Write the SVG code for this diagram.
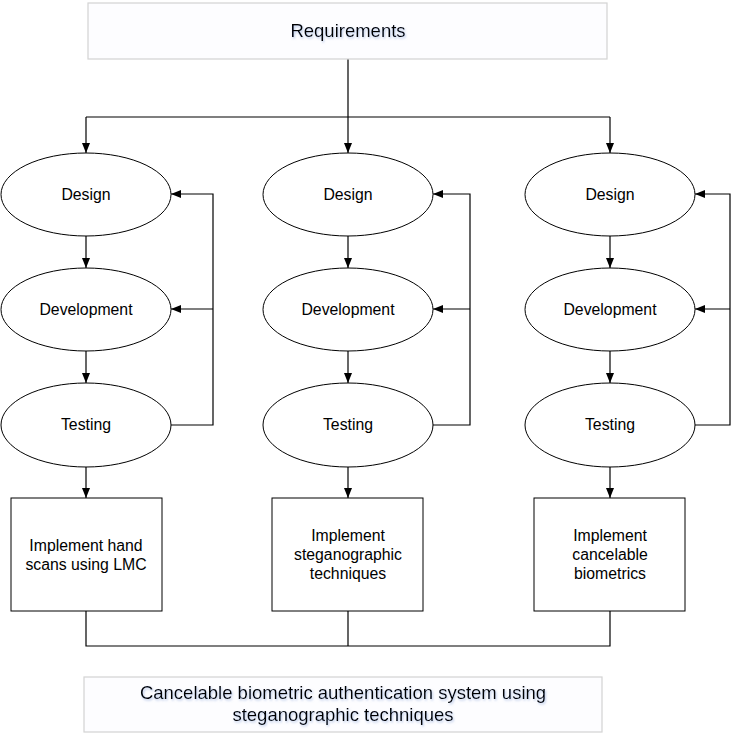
<svg xmlns="http://www.w3.org/2000/svg" width="731" height="742" viewBox="0 0 731 742">
<style>
.el{fill:#fff;stroke:#000;stroke-width:1}
.bx{fill:#fff;stroke:#000;stroke-width:1}
.lb{fill:#fdfdff;stroke:#d3d3d3;stroke-width:1.2}
.t{font-family:"Liberation Sans",Arial,sans-serif;font-size:15.8px;fill:#000;text-anchor:middle}
.tl{font-family:"Liberation Sans",Arial,sans-serif;font-size:18.5px;fill:#000;text-anchor:middle}
.c{fill:none;stroke:#000;stroke-width:1.2}
</style>
<defs>
<marker id="ah" viewBox="0 0 10 10" refX="10" refY="5" markerWidth="10" markerHeight="10" markerUnits="userSpaceOnUse" orient="auto">
<path d="M0,1 L10,5 L0,9 Z" fill="#000"/>
</marker>
<filter id="sh" x="-10%" y="-30%" width="120%" height="160%">
<feDropShadow dx="1" dy="1.5" stdDeviation="1.2" flood-color="#8aa4d8" flood-opacity="0.6"/>
</filter>
</defs>
<rect width="731" height="742" fill="#fff"/>

<g id="connectors">
<path class="c" d="M348,59 V117 M86,117 H610"/>
<path class="c" d="M86,117 V153" marker-end="url(#ah)"/>
<path class="c" d="M348,117 V153" marker-end="url(#ah)"/>
<path class="c" d="M610,117 V153" marker-end="url(#ah)"/>

<path class="c" d="M86,236 V268" marker-end="url(#ah)"/>
<path class="c" d="M86,351 V383" marker-end="url(#ah)"/>
<path class="c" d="M86,467 V498" marker-end="url(#ah)"/>
<path class="c" d="M171,425 H213 V194 H171" marker-end="url(#ah)"/>
<path class="c" d="M213,309 H171" marker-end="url(#ah)"/>

<path class="c" d="M348,236 V268" marker-end="url(#ah)"/>
<path class="c" d="M348,351 V383" marker-end="url(#ah)"/>
<path class="c" d="M348,467 V498" marker-end="url(#ah)"/>
<path class="c" d="M433,425 H470 V194 H433" marker-end="url(#ah)"/>
<path class="c" d="M470,309 H433" marker-end="url(#ah)"/>

<path class="c" d="M610,236 V268" marker-end="url(#ah)"/>
<path class="c" d="M610,351 V383" marker-end="url(#ah)"/>
<path class="c" d="M610,467 V498" marker-end="url(#ah)"/>
<path class="c" d="M695,425 H730 V194 H695" marker-end="url(#ah)"/>
<path class="c" d="M730,309 H695" marker-end="url(#ah)"/>

<path class="c" d="M86,611 V646 H610 V611 M348,611 V646"/>
</g>

<g id="requirements">
<rect class="lb" x="88" y="3" width="519" height="56"/>
<text class="tl" x="348" y="36.5" filter="url(#sh)">Requirements</text>
</g>

<g id="design1"><ellipse class="el" cx="86" cy="194.5" rx="85" ry="41.5"/><text class="t" x="86" y="200">Design</text></g>
<g id="dev1"><ellipse class="el" cx="86" cy="309.5" rx="85" ry="41.5"/><text class="t" x="86" y="315">Development</text></g>
<g id="test1"><ellipse class="el" cx="86" cy="425" rx="85" ry="42"/><text class="t" x="86" y="430">Testing</text></g>

<g id="design2"><ellipse class="el" cx="348" cy="194.5" rx="85" ry="41.5"/><text class="t" x="348" y="200">Design</text></g>
<g id="dev2"><ellipse class="el" cx="348" cy="309.5" rx="85" ry="41.5"/><text class="t" x="348" y="315">Development</text></g>
<g id="test2"><ellipse class="el" cx="348" cy="425" rx="85" ry="42"/><text class="t" x="348" y="430">Testing</text></g>

<g id="design3"><ellipse class="el" cx="610" cy="194.5" rx="85" ry="41.5"/><text class="t" x="610" y="200">Design</text></g>
<g id="dev3"><ellipse class="el" cx="610" cy="309.5" rx="85" ry="41.5"/><text class="t" x="610" y="315">Development</text></g>
<g id="test3"><ellipse class="el" cx="610" cy="425" rx="85" ry="42"/><text class="t" x="610" y="430">Testing</text></g>

<g id="impl1">
<rect class="bx" x="11" y="498" width="151" height="113"/>
<text class="t" x="86" y="550.5">Implement hand</text>
<text class="t" x="86" y="569.5">scans using LMC</text>
</g>
<g id="impl2">
<rect class="bx" x="272" y="498" width="151" height="113"/>
<text class="t" x="348" y="540.5">Implement</text>
<text class="t" x="348" y="559.5">steganographic</text>
<text class="t" x="348" y="578.5">techniques</text>
</g>
<g id="impl3">
<rect class="bx" x="534" y="498" width="151" height="113"/>
<text class="t" x="610" y="540.5">Implement</text>
<text class="t" x="610" y="559.5">cancelable</text>
<text class="t" x="610" y="578.5">biometrics</text>
</g>

<g id="system">
<rect class="lb" x="84" y="677" width="518" height="55"/>
<text class="tl" x="343" y="698.5" filter="url(#sh)">Cancelable biometric authentication system using</text>
<text class="tl" x="343" y="721" filter="url(#sh)">steganographic techniques</text>
</g>
</svg>
